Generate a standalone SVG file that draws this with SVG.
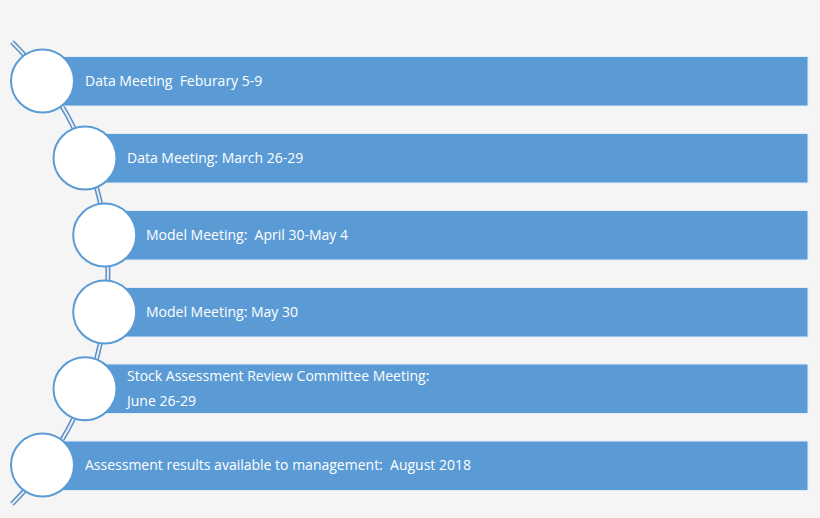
<svg xmlns="http://www.w3.org/2000/svg" width="820" height="518" viewBox="0 0 820 518">
<style>
.bar{fill:#5b9bd5;stroke:#e3eefa;stroke-width:1}
.dot{fill:#ffffff;stroke:#5b9bd5;stroke-width:2}
.lbl{fill:#ffffff;font-family:"Open Sans","Liberation Sans",sans-serif;font-size:14px}
.arcA{fill:none;stroke:#5b8fc4;stroke-width:5}
.arcB{fill:none;stroke:#e8eef6;stroke-width:2}
</style>
<rect x="0" y="0" width="820" height="518" fill="#f5f5f5"/>
<g id="connectors">
<path class="arcA" d="M12,42 A326,326 0 0 1 12,504"/>
<path class="arcB" d="M12,42 A326,326 0 0 1 12,504"/>
</g>
<g id="node1">
<rect class="bar" x="42" y="56.5" width="766" height="49.5"/>
<circle class="dot" cx="42.5" cy="81" r="31.5"/>
<text class="lbl" x="85" y="85.5" xml:space="preserve">Data Meeting  Feburary 5-9</text>
</g>
<g id="node2">
<rect class="bar" x="85" y="133.5" width="723" height="49.5"/>
<circle class="dot" cx="85" cy="158" r="31.5"/>
<text class="lbl" x="127" y="162.5">Data Meeting: March 26-29</text>
</g>
<g id="node3">
<rect class="bar" x="105" y="210.5" width="703" height="49.5"/>
<circle class="dot" cx="104.7" cy="235" r="31.5"/>
<text class="lbl" x="146" y="239.5" xml:space="preserve">Model Meeting:  April 30-May 4</text>
</g>
<g id="node4">
<rect class="bar" x="105" y="287.5" width="703" height="49.5"/>
<circle class="dot" cx="104.7" cy="312" r="31.5"/>
<text class="lbl" x="146" y="316.5">Model Meeting: May 30</text>
</g>
<g id="node5">
<rect class="bar" x="85" y="364" width="723" height="49.5"/>
<circle class="dot" cx="85" cy="388.7" r="31.5"/>
<text class="lbl" x="127" y="380.5">Stock Assessment Review Committee Meeting:</text>
<text class="lbl" x="127" y="405.5">June 26-29</text>
</g>
<g id="node6">
<rect class="bar" x="42" y="441" width="766" height="49.5"/>
<circle class="dot" cx="42.5" cy="465" r="31.5"/>
<text class="lbl" x="85" y="469.5" xml:space="preserve">Assessment results available to management:  August 2018</text>
</g>
</svg>
